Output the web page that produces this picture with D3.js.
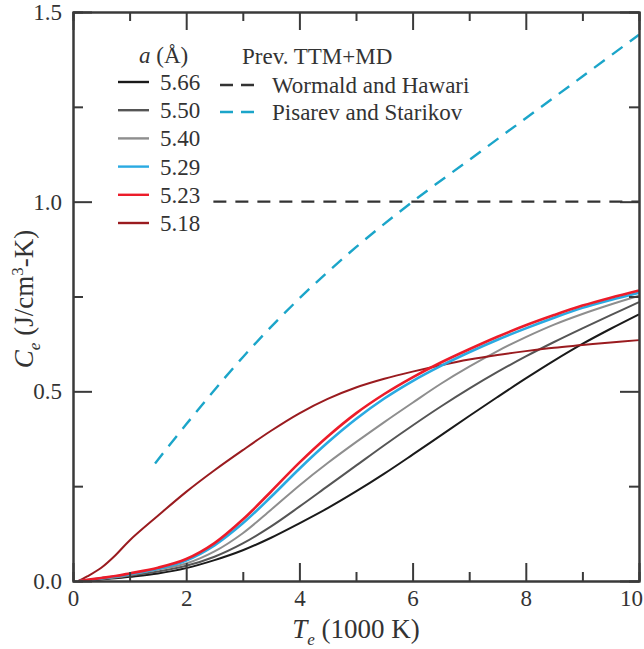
<!DOCTYPE html>
<html>
<head>
<meta charset="utf-8">
<script src="https://cdn.jsdelivr.net/npm/d3@7"></script>
<style>
  body { margin: 0; background: #fff; }
</style>
</head>
<body>
<svg id="chart" width="644" height="649"></svg>
<script>
// electronic heat capacity vs electron temperature
// T in 1000 K, Ce in J/cm^3-K
var T = [0.1, 0.25, 0.5, 0.75, 1, 1.5, 2, 2.5, 3, 3.5, 4, 4.5, 5, 5.5, 6, 6.5, 7, 7.5, 8, 8.5, 9, 9.5, 10];

var ce566 = [0, 0.001, 0.004, 0.007, 0.011, 0.02, 0.034, 0.055, 0.081, 0.114, 0.152, 0.192, 0.236, 0.283, 0.333, 0.384, 0.435, 0.485, 0.534, 0.581, 0.625, 0.665, 0.703];
var ce550 = [0, 0.002, 0.005, 0.009, 0.014, 0.025, 0.04, 0.064, 0.099, 0.144, 0.196, 0.25, 0.304, 0.358, 0.41, 0.46, 0.507, 0.551, 0.592, 0.63, 0.666, 0.701, 0.735];
var ce540 = [0, 0.002, 0.006, 0.01, 0.016, 0.03, 0.046, 0.078, 0.126, 0.188, 0.252, 0.311, 0.366, 0.419, 0.47, 0.52, 0.565, 0.606, 0.643, 0.676, 0.704, 0.729, 0.752];
var ce529 = [0, 0.002, 0.007, 0.012, 0.018, 0.032, 0.054, 0.094, 0.152, 0.222, 0.296, 0.365, 0.427, 0.481, 0.527, 0.567, 0.603, 0.636, 0.666, 0.694, 0.72, 0.741, 0.76];
var ce523 = [0, 0.003, 0.008, 0.013, 0.02, 0.035, 0.058, 0.1, 0.162, 0.236, 0.312, 0.381, 0.442, 0.493, 0.537, 0.576, 0.611, 0.644, 0.674, 0.701, 0.726, 0.747, 0.766];
var ce518 = [0, 0.012, 0.035, 0.068, 0.107, 0.172, 0.235, 0.292, 0.345, 0.396, 0.442, 0.48, 0.51, 0.533, 0.552, 0.569, 0.584, 0.596, 0.606, 0.615, 0.622, 0.629, 0.635];

var latticeLabels = ["5.66", "5.50", "5.40", "5.29", "5.23", "5.18"];
var latticeSeries = [ce566, ce550, ce540, ce529, ce523, ce518];
var latticeColors = ["#1a1a1a", "#555555", "#8e8e8e", "#2aaae2", "#ec1c2a", "#9a1b1f"];

// previous TTM+MD values
var wormaldT = [2.48, 10];
var wormaldCe = [1.0, 1.0];
var pisarevT = [1.45, 2, 3, 4, 5, 6, 7, 8, 9, 10];
var pisarevCe = [0.31, 0.413, 0.59, 0.745, 0.88, 1.0, 1.11, 1.22, 1.33, 1.44];
var prevLabels = ["Wormald and Hawari", "Pisarev and Starikov"];
var prevColors = ["#333333", "#1ba5c9"];

var xMajor = [0, 2, 4, 6, 8, 10];
var xMinor = [1, 3, 5, 7, 9];
var yMajor = [0, 0.5, 1.0, 1.5];
var yMinor = [0.25, 0.75, 1.25];

var LEFT = 73, RIGHT = 639, TOP = 12, BOTTOM = 581;
var AXIS_COLOR = "#3a3a3a";
var FONT = "'Liberation Serif', 'Times New Roman', serif";
var TEXT_COLOR = "#333";

var svg = d3.select("#chart");

var x = d3.scaleLinear().domain([0, 10]).range([LEFT, RIGHT]);
var y = d3.scaleLinear().domain([0, 1.5]).range([BOTTOM, TOP]);

var line = d3.line()
    .x(function(d) { return x(d[0]); })
    .y(function(d) { return y(d[1]); })
    .curve(d3.curveCatmullRom.alpha(0.5));

// dashed reference curves
var prev = [[wormaldT, wormaldCe], [pisarevT, pisarevCe]];
prev.forEach(function(s, i) {
  svg.append("path")
      .datum(d3.zip(s[0], s[1]))
      .attr("d", line)
      .attr("fill", "none")
      .attr("stroke", prevColors[i])
      .attr("stroke-width", 2.4)
      .attr("stroke-dasharray", "13,9");
});

// solid curves, grays first, red on top
var order = [0, 1, 2, 5, 3, 4];
order.forEach(function(i) {
  svg.append("path")
      .datum(d3.zip(T, latticeSeries[i]))
      .attr("d", line)
      .attr("fill", "none")
      .attr("stroke", latticeColors[i])
      .attr("stroke-width", (i == 3 || i == 4) ? 2.6 : 2);
});

// axes: ticks inward on all four sides
function styleAxis(g) {
  g.selectAll("path, line").attr("stroke", AXIS_COLOR).attr("stroke-width", 2);
  g.selectAll("text").attr("fill", TEXT_COLOR).style("font-size", "23px")
      .style("font-family", FONT);
}

svg.append("g").attr("transform", "translate(0," + BOTTOM + ")")
    .call(d3.axisBottom(x).tickValues(xMinor).tickSize(-9).tickFormat(""))
    .call(styleAxis);
var xAxisG = svg.append("g").attr("transform", "translate(0," + BOTTOM + ")")
    .call(d3.axisBottom(x).tickValues(xMajor).tickSizeInner(-18).tickSizeOuter(0)
      .tickPadding(9).tickFormat(d3.format("d")))
    .call(styleAxis);
// keep the last label inside the picture
xAxisG.selectAll(".tick text").filter(function(d) { return d == 10; }).attr("dx", -8);

svg.append("g").attr("transform", "translate(0," + TOP + ")")
    .call(d3.axisTop(x).tickValues(xMinor).tickSize(-9).tickFormat(""))
    .call(styleAxis);
svg.append("g").attr("transform", "translate(0," + TOP + ")")
    .call(d3.axisTop(x).tickValues(xMajor).tickSizeInner(-18).tickSizeOuter(0).tickFormat(""))
    .call(styleAxis);

svg.append("g").attr("transform", "translate(" + LEFT + ",0)")
    .call(d3.axisLeft(y).tickValues(yMinor).tickSize(-10).tickFormat(""))
    .call(styleAxis);
svg.append("g").attr("transform", "translate(" + LEFT + ",0)")
    .call(d3.axisLeft(y).tickValues(yMajor).tickSizeInner(-19).tickSizeOuter(0)
      .tickPadding(11).tickFormat(d3.format(".1f")))
    .call(styleAxis);

svg.append("g").attr("transform", "translate(" + RIGHT + ",0)")
    .call(d3.axisRight(y).tickValues(yMinor).tickSize(-10).tickFormat(""))
    .call(styleAxis);
svg.append("g").attr("transform", "translate(" + RIGHT + ",0)")
    .call(d3.axisRight(y).tickValues(yMajor).tickSizeInner(-19).tickSizeOuter(0).tickFormat(""))
    .call(styleAxis);

function txt(sel) {
  return sel.style("font-family", FONT).attr("fill", TEXT_COLOR);
}

// axis titles
var xt = txt(svg.append("text"))
    .attr("x", (LEFT + RIGHT) / 2)
    .attr("y", 638)
    .attr("text-anchor", "middle")
    .style("font-size", "27px");
xt.append("tspan").style("font-style", "italic").text("T");
xt.append("tspan").attr("dy", 7).style("font-style", "italic").style("font-size", "17px").text("e");
xt.append("tspan").attr("dy", -7).text(" (1000 K)");

var yt = txt(svg.append("text"))
    .attr("transform", "translate(33," + 299 + ")rotate(-90)")
    .attr("text-anchor", "middle")
    .style("font-size", "27px");
yt.append("tspan").style("font-style", "italic").text("C");
yt.append("tspan").attr("dy", 7).style("font-style", "italic").style("font-size", "17px").text("e");
yt.append("tspan").attr("dy", -7).text(" (J/cm");
yt.append("tspan").attr("dy", -10).style("font-size", "17px").text("3");
yt.append("tspan").attr("dy", 10).text("-K)");

// legend: lattice parameter
var lt = txt(svg.append("text")).attr("x", 139).attr("y", 63).style("font-size", "23px");
lt.append("tspan").style("font-style", "italic").text("a");
lt.append("tspan").text(" (\u00c5)");

var legY = d3.scalePoint().domain(latticeLabels).range([82, 223]);
latticeLabels.forEach(function(lab, i) {
  svg.append("line")
      .attr("x1", 118).attr("x2", 149)
      .attr("y1", legY(lab)).attr("y2", legY(lab))
      .attr("stroke", latticeColors[i])
      .attr("stroke-width", 2.4);
  txt(svg.append("text"))
      .attr("x", 160).attr("y", legY(lab))
      .attr("dy", "0.35em")
      .style("font-size", "23px")
      .text(lab);
});

// legend: previous work
txt(svg.append("text")).attr("x", 242).attr("y", 64).style("font-size", "23px").text("Prev. TTM+MD");
var prevY = [85, 112];
prevLabels.forEach(function(lab, i) {
  svg.append("line")
      .attr("x1", 220).attr("x2", 257)
      .attr("y1", prevY[i]).attr("y2", prevY[i])
      .attr("stroke", prevColors[i])
      .attr("stroke-width", 2.4)
      .attr("stroke-dasharray", "13,8");
  txt(svg.append("text"))
      .attr("x", 272).attr("y", prevY[i])
      .attr("dy", "0.35em")
      .style("font-size", "23px")
      .text(lab);
});
</script>
</body>
</html>
